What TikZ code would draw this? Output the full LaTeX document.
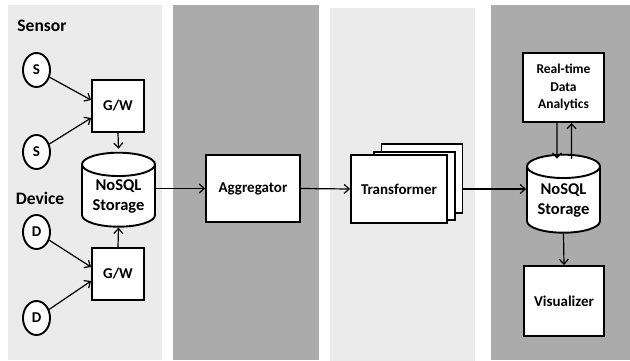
\documentclass[tikz,border=0pt]{standalone}
\usepackage{fontspec}
\setmainfont{Carlito}
\usetikzlibrary{shapes.geometric,arrows.meta,calc}
\tikzset{
 x=1pt,y=-1pt,
 panel/.style={draw=none,minimum width=#1,minimum height=355,anchor=north west,inner sep=0},
 box/.style={draw=black,fill=white,line width=1.9,inner sep=0,align=center,font=\bfseries\fontsize{15}{17}\selectfont},
 rtbox/.style={box,font=\bfseries\fontsize{13.5}{17.5}\selectfont},
 circ/.style={ellipse,draw=black,fill=white,line width=1.9,minimum width=27,minimum height=34,inner sep=0,font=\bfseries\fontsize{15}{17}\selectfont},
 cyl/.style={cylinder,shape border rotate=90,aspect=0.45,draw=black,fill=white,line width=1.9,minimum width=73,minimum height=74,inner sep=0,align=center,font=\bfseries\fontsize{16.5}{20}\selectfont},
 lab/.style={font=\bfseries\fontsize{17.5}{20}\selectfont,inner sep=0},
 conn/.style={-{Straight Barb[length=5pt,width=9pt]},line width=1.2,black},
}
\begin{document}
\begin{tikzpicture}
\useasboundingbox (0,0) rectangle (630,360);
\fill[white] (0,0) rectangle (630,360);
\node[panel=154,fill=black!8] (p1) at (8,5) {};
\node[panel=146,fill=black!33] (p2) at (173,5) {};
\node[panel=145,fill=black!8] (p3) at (330,8) {};
\node[panel=139,fill=black!33] (p4) at (491,5) {};
\node[lab] (sensor) at (42,26) {Sensor};
\node[lab] (device) at (40,198) {Device};
\node[circ] (s1) at (36.5,70) {S};
\node[circ] (s2) at (36.5,152) {S};
\node[circ] (d1) at (36.5,232) {D};
\node[circ] (d2) at (36.5,318) {D};
\node[box,minimum width=52,minimum height=52] (gw1) at (118,106) {G/W};
\node[box,minimum width=52,minimum height=52] (gw2) at (118,274) {G/W};
\node[cyl] (st1) at (118.5,196) {NoSQL\\Storage};
\node[box,minimum width=94,minimum height=67] (agg) at (253,188.5) {Aggregator};
\node[box,minimum width=81,minimum height=69] (t3) at (422,178.5) {};
\node[box,minimum width=81,minimum height=68] (t2) at (414.5,186) {};
\node[box,minimum width=96,minimum height=68] (t1) at (399,189) {Transformer};
\node[rtbox,minimum width=81,minimum height=69] (rt) at (563.5,87.5) {Real-time\\Data\\Analytics};
\node[cyl,minimum height=78] (st2) at (563.5,200) {NoSQL\\Storage};
\node[box,minimum width=80,minimum height=70] (vis) at (564,301) {Visualizer};
\draw[conn] (s1) -- ($(gw1.west)+(0,-6)$);
\draw[conn] (s2) -- ($(gw1.west)+(0,12)$);
\draw[conn] (d1) -- ($(gw2.west)+(0,-7)$);
\draw[conn] (d2) -- ($(gw2.west)+(0,7)$);
\draw[conn] (gw1.south) -- ($(st1.north)+(0,-3)$);
\draw[conn] (gw2.north) -- (st1.south);
\draw[conn] (st1.east |- agg.west) -- (agg.west);
\draw[conn] (agg.east) -- (t1.west);
\draw[conn] (t3.east |- t1.west) -- (st2.west |- t1.west);
\draw[conn] ($(rt.south)+(-6.5,0)$) -- ($(st2.north)+(-6.5,5)$);
\draw[conn] ($(st2.north)+(8,5)$) -- ($(rt.south)+(8,0)$);
\draw[conn] (st2.south) -- (vis.north);
\end{tikzpicture}
\end{document}
